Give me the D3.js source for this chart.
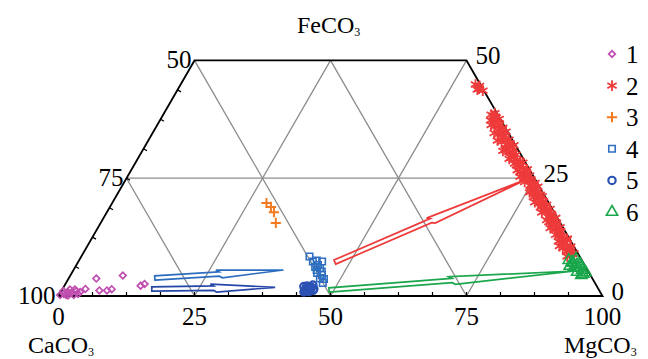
<!DOCTYPE html>
<html>
<head>
<meta charset="utf-8">
<script src="https://cdn.jsdelivr.net/npm/d3@7"></script>
<style>
  html, body { margin: 0; padding: 0; background: #fff; }
  svg { display: block; font-family: "Liberation Serif", "Times New Roman", serif; }
</style>
</head>
<body>
<svg id="chart" width="648" height="359"></svg>
<script>
// every point is [CaCO3, FeCO3] in %, MgCO3 is the rest
const series1 = [[91.2, 3.7], [86.0, 4.35], [94.3, 1.5], [91.9, 1.17], [90.5, 1.17], [89.5, 1.44],
  [83.8, 2.2], [82.9, 2.55], [98.8, 0.42], [97.85, 0.85], [97.2, 0.74], [96.2, 1.06], [97.2, 1.38],
  [96.2, 0.42], [97.1, 0.2], [98.5, 0.2], [99.6, 0.2], [98.6, 1.06], [96.3, 1.38], [95.6, 0.85], [98.2, 0.1]];
const series2 = [[0.3, 44.6], [0.7, 44.0], [0.2, 43.6], [0.9, 44.9], [1.1, 43.8],
  [0.4, 38.8], [1.0, 38.2], [0.2, 37.6], [1.4, 37.1], [0.7, 36.5], [1.8, 36.0], [0.5, 35.7], [1.1, 35.4],
  [0.3, 34.9], [2.0, 34.3], [1.3, 33.8], [1.7, 33.5], [0.6, 33.2], [2.2, 32.7], [1.5, 32.1], [0.8, 31.6],
  [2.4, 31.0], [1.7, 30.5], [0.9, 30.0], [1.5, 29.7], [2.1, 29.4], [1.3, 28.9], [0.5, 28.3], [1.9, 27.8],
  [1.0, 27.2], [2.3, 26.7], [0.8, 26.4], [1.5, 26.1], [0.6, 25.6], [1.8, 25.0], [1.1, 24.5], [0.4, 24.0],
  [1.6, 23.4], [0.9, 22.9], [1.4, 22.6], [2.0, 22.3], [1.2, 21.8], [0.5, 21.2], [1.5, 20.7], [0.8, 20.1],
  [1.9, 19.6], [1.5, 19.3], [1.1, 19.0], [0.4, 18.5], [1.4, 17.9], [0.7, 17.4], [1.6, 16.8], [0.9, 16.3],
  [1.3, 16.0], [2.0, 15.7], [1.2, 15.2], [0.5, 14.6], [1.7, 14.1], [1.0, 13.5], [2.1, 13.0], [1.7, 12.7],
  [1.3, 12.4], [0.6, 11.9], [1.8, 11.3], [1.1, 10.8], [0.6, 10.5], [2.2, 10.2], [1.4, 9.7], [0.7, 9.1], [1.6, 8.6],
  [1.2, 38.5], [0.6, 37.9], [1.9, 37.3], [0.9, 36.8], [2.3, 36.3], [1.5, 35.1], [2.6, 34.6], [0.9, 34.1],
  [2.8, 33.0], [1.1, 32.4], [0.3, 32.0], [1.9, 31.3], [2.9, 30.8], [1.2, 30.3], [2.6, 29.1], [0.8, 28.6],
  [2.1, 28.1], [1.5, 27.5], [0.4, 26.9], [2.0, 26.3], [1.3, 25.8], [2.5, 25.3], [0.8, 24.8], [2.2, 24.2],
  [1.2, 23.7], [0.3, 23.2], [2.4, 22.0], [0.7, 21.5], [2.2, 21.0], [1.1, 20.4], [2.5, 19.9], [0.6, 19.4],
  [2.0, 18.8], [1.2, 18.2], [2.3, 17.7], [1.0, 17.1], [0.3, 16.6], [2.2, 16.1], [0.7, 15.5], [1.8, 14.9],
  [2.4, 14.4], [0.8, 13.8], [1.5, 13.3], [0.4, 12.2], [2.3, 11.6], [1.5, 11.1], [2.6, 10.6], [0.9, 10.0],
  [1.9, 9.4], [1.1, 8.9], [2.3, 8.4]];
const series3 = [[51.9, 19.74], [51.5, 18.9], [51.5, 17.8], [52.3, 15.5]];
const series4 = [[49.67, 8.38], [49.58, 7.32], [48.76, 7.54], [47.88, 7.32], [49.02, 6.58], [49.74, 6.16],
  [48.96, 5.94], [49.78, 5.52], [49.0, 5.2], [50.02, 4.88], [49.34, 4.46], [50.09, 3.71], [49.4, 3.6], [50.04, 2.76]];
const series5 = [[54.03, 1.27], [53.3, 1.7], [52.59, 1.91], [52.07, 2.33], [53.28, 2.12], [53.13, 1.27],
  [54.45, 0.85], [52.31, 1.49], [53.82, 1.38], [53.44, 0.96], [53.7, 1.6], [52.8, 1.6], [53.9, 2.0],
  [52.6, 1.2], [54.2, 1.1]];
const series6 = [[1.98, 7.22], [0.95, 7.85], [0.71, 6.79], [2.14, 6.16], [1.56, 5.94], [0.98, 5.52],
  [2.83, 6.37], [2.11, 5.09], [1.23, 4.67], [1.9, 7.0], [1.4, 6.6], [2.4, 7.6], [0.6, 5.0], [1.7, 4.4]];

// arrows: [tail, tip]
const arrowRed = [[45.6, 7.2], [1.5, 24.8]];
const arrowGreen = [[49.63, 1.27], [2.39, 5.31]];
const arrowBlueUp = [[80.38, 3.82], [55.88, 5.52]];
const arrowBlueLow = [[82.11, 1.49], [59.25, 1.85]];

const legendLabels = ['1', '2', '3', '4', '5', '6'];
const gridValues = [25, 50, 75];
const bottomTicks = [0, 25, 50, 75, 100];   // MgCO3
const leftTicks = [100, 75, 50];            // CaCO3
const rightTicks = [50, 25, 0];             // FeCO3

const svg = d3.select('#chart');
const side = 544;
const x = d3.scaleLinear().domain([0, 100]).range([58.5, 58.5 + side]);
const y = d3.scaleLinear().domain([0, 100]).range([296, 296 - side * Math.sqrt(3) / 2]);

function proj(p) {
  const ca = p[0], fe = p[1];
  const mg = 100 - ca - fe;
  return [x(mg + fe / 2), y(fe)];
}

const line = d3.line().x(d => proj(d)[0]).y(d => proj(d)[1]);

// grid
const grid = svg.append('g').attr('stroke', '#8c8c8c').attr('stroke-width', 1.3).attr('fill', 'none');
gridValues.forEach(v => {
  // constant CaCO3
  grid.append('path').attr('d', line([[v, 0], [v, Math.min(50, 100 - v)]]));
  // constant MgCO3
  const top = Math.min(50, 100 - v);
  grid.append('path').attr('d', line([[100 - v, 0], [100 - v - top, top]]));
});
grid.append('path').attr('d', line([[75, 25], [0, 25]]));

// outline
svg.append('path')
  .attr('d', line([[100, 0], [50, 50], [0, 50], [0, 0], [100, 0]]))
  .attr('fill', 'none').attr('stroke', '#000').attr('stroke-width', 1.8)
  .attr('stroke-linejoin', 'miter');

// minor ticks every 6.25 %
const tk = svg.append('g').attr('stroke', '#000').attr('stroke-width', 1.2);
d3.range(1, 16).forEach(i => {
  const v = i * 6.25;
  const b = proj([100 - v, 0]);
  tk.append('line').attr('x1', b[0]).attr('y1', b[1]).attr('x2', b[0]).attr('y2', b[1] - 4);
  if (v < 50) {
    const l = proj([100 - v, v]);
    tk.append('line').attr('x1', l[0]).attr('y1', l[1]).attr('x2', l[0] + 3.5).attr('y2', l[1] + 2);
    const r = proj([0, v]);
    tk.append('line').attr('x1', r[0]).attr('y1', r[1]).attr('x2', r[0] - 3.5).attr('y2', r[1] + 2);
  }
});

// arrows
function arrowPath(a) {
  const t = proj(a[0]), h = proj(a[1]);
  const dx = h[0] - t[0], dy = h[1] - t[1];
  const len = Math.hypot(dx, dy);
  const ux = dx / len, uy = dy / len, nx = -uy, ny = ux;
  const m = [t[0] + dx * 0.5, t[1] + dy * 0.5];
  const ws = 2.2, wh = 4;
  const pts = [
    [t[0] + nx * ws, t[1] + ny * ws],
    [m[0] + nx * ws, m[1] + ny * ws],
    [m[0] + nx * wh + ux * 3, m[1] + ny * wh + uy * 3],
    h,
    [m[0] - nx * wh - ux * 3, m[1] - ny * wh - uy * 3],
    [m[0] - nx * ws, m[1] - ny * ws],
    [t[0] - nx * ws, t[1] - ny * ws]
  ];
  return 'M' + pts.map(p => p.join(',')).join('L') + 'Z';
}
[[arrowBlueUp, '#2d6dc0'], [arrowBlueLow, '#2548a8'], [arrowRed, '#ee3a3a'], [arrowGreen, '#1aa64b']]
  .forEach(([a, c]) => {
    svg.append('path').attr('d', arrowPath(a)).attr('fill', 'none')
      .attr('stroke', c).attr('stroke-width', 1.7).attr('stroke-linejoin', 'miter');
  });

// series
const seriesList = [
  { data: series1, color: '#c04eb0', type: d3.symbolSquare, size: 22, rot: 45, sw: 1.7 },
  { data: series2, color: '#ee3a3a', type: d3.symbolAsterisk, size: 80, rot: 0, sw: 1.8 },
  { data: series3, color: '#f27b21', type: d3.symbolPlus, size: 36, rot: 0, sw: 2 },
  { data: series4, color: '#2e6fc1', type: d3.symbolSquare, size: 42, rot: 0, sw: 1.6 },
  { data: series5, color: '#2b52b3', type: d3.symbolCircle, size: 42, rot: 0, sw: 2.2 },
  { data: series6, color: '#1aa64b', type: d3.symbolTriangle, size: 55, rot: 0, sw: 1.6 }
];
seriesList.forEach(s => {
  svg.append('g').selectAll('path').data(s.data).join('path')
    .attr('d', d3.symbol(s.type, s.size))
    .attr('transform', d => `translate(${proj(d)}) rotate(${s.rot})`)
    .attr('fill', 'none').attr('stroke', s.color).attr('stroke-width', s.sw);
});

// tick labels
const fs = 25;
svg.append('g').selectAll('text').data(bottomTicks).join('text')
  .attr('x', d => proj([100 - d, 0])[0]).attr('y', 325)
  .attr('text-anchor', 'middle').attr('font-size', fs).text(d => d);
svg.append('g').selectAll('text').data(leftTicks).join('text')
  .attr('x', d => proj([d, 100 - d])[0] - 3).attr('y', d => proj([d, 100 - d])[1] + 8)
  .attr('text-anchor', 'end').attr('font-size', fs).text(d => d);
svg.append('g').selectAll('text').data(rightTicks).join('text')
  .attr('x', d => proj([0, d])[0] + 9).attr('y', d => proj([0, d])[1] + 4)
  .attr('font-size', fs).text(d => d);

// axis names
function chem(xp, yp, base) {
  const t = svg.append('text').attr('x', xp).attr('y', yp).attr('font-size', 24);
  t.append('tspan').text(base);
  t.append('tspan').attr('font-size', 12).attr('dy', 3).text('3');
}
chem(297, 33, 'FeCO');
chem(28, 353, 'CaCO');
chem(564, 353, 'MgCO');

// legend
const ly = d3.scaleLinear().domain([0, 5]).range([54, 212]);
const lg = svg.append('g');
seriesList.forEach((s, i) => {
  lg.append('path').attr('d', d3.symbol(s.type, s.size))
    .attr('transform', `translate(612,${ly(i)}) rotate(${s.rot})`)
    .attr('fill', 'none').attr('stroke', s.color).attr('stroke-width', s.sw);
  lg.append('text').attr('x', 626).attr('y', ly(i) + 9).attr('font-size', fs).text(legendLabels[i]);
});
</script>
</body>
</html>
